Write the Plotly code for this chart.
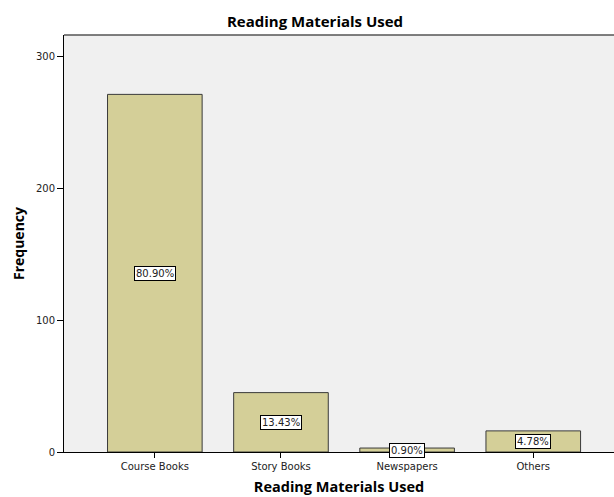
import plotly.graph_objects as go

categories = ["Course Books", "Story Books", "Newspapers", "Others"]
frequency = [271, 45, 3, 16]
percent_labels = ["80.90%", "13.43%", "0.90%", "4.78%"]
y_ticks = [0, 100, 200, 300]

fig = go.Figure()
fig.add_trace(go.Bar(
    x=categories, y=frequency,
    marker=dict(color="#d4cf98", line=dict(color="#3a3a3a", width=1)),
    width=0.75,
))

for c, v, lab in zip(categories, frequency, percent_labels):
    fig.add_annotation(
        x=c, y=v / 2, text=lab, showarrow=False,
        bgcolor="white", bordercolor="black", borderwidth=1, borderpad=1,
        font=dict(family="DejaVu Sans", size=10, color="#222"),
    )

fig.update_layout(
    width=614, height=497,
    margin=dict(l=64, r=0, t=35, b=45),
    paper_bgcolor="white", plot_bgcolor="#f0f0f0",
    showlegend=False,
    title=dict(text="<b>Reading Materials Used</b>", x=315 / 614, xanchor="center",
               y=1 - 22 / 497, yanchor="middle",
               font=dict(family="Open Sans", size=15, color="black")),
    font=dict(family="DejaVu Sans", size=10, color="#222"),
)
fig.update_xaxes(
    range=[-0.72, 3.64], showline=True, linecolor="black", linewidth=1, mirror=False,
    ticks="outside", ticklen=5, tickcolor="black", showgrid=False,
    title=dict(text="<b>Reading Materials Used</b>", standoff=10,
               font=dict(family="Open Sans", size=14.5, color="black")),
    tickfont=dict(family="DejaVu Sans", size=10, color="#222"),
)
fig.update_yaxes(
    range=[0, 316], tickvals=y_ticks, showline=True, linecolor="black", linewidth=1,
    ticks="outside", ticklen=6, tickcolor="black", showgrid=False, zeroline=False,
    title=dict(text="<b>Frequency</b>", standoff=8,
               font=dict(family="Open Sans", size=14, color="black")),
    tickfont=dict(family="DejaVu Sans", size=10, color="#222"),
)
fig.add_shape(type="line", xref="paper", yref="paper", x0=0, x1=1, y0=1, y1=1,
              line=dict(color="#555555", width=1.5))

fig.write_html("out.html")
